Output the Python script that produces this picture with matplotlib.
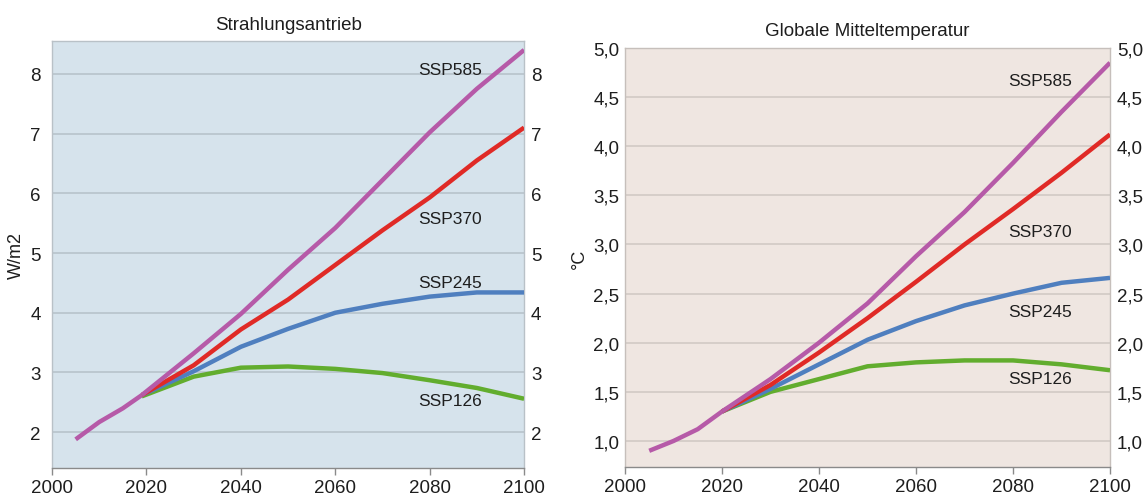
import matplotlib.pyplot as plt
from matplotlib.ticker import FuncFormatter

plt.rcParams['font.family'] = ['Liberation Sans', 'DejaVu Sans']

# Strahlungsantrieb (W/m2)
hist_years_f = [2005, 2010, 2015, 2019]
hist_forcing = [1.88, 2.17, 2.40, 2.62]
years_f = [2019, 2030, 2040, 2050, 2060, 2070, 2080, 2090, 2100]
ssp585_f = [2.62, 3.32, 3.98, 4.72, 5.42, 6.22, 7.02, 7.75, 8.40]
ssp370_f = [2.62, 3.12, 3.72, 4.22, 4.80, 5.38, 5.93, 6.55, 7.10]
ssp245_f = [2.62, 3.02, 3.43, 3.73, 4.00, 4.15, 4.27, 4.34, 4.34]
ssp126_f = [2.60, 2.93, 3.08, 3.10, 3.06, 2.99, 2.87, 2.74, 2.56]

# Globale Mitteltemperatur (°C)
hist_years_t = [2005, 2010, 2015, 2020]
hist_temp = [0.90, 1.00, 1.12, 1.30]
years_t = [2020, 2030, 2040, 2050, 2060, 2070, 2080, 2090, 2100]
ssp585_t = [1.30, 1.63, 2.00, 2.40, 2.88, 3.33, 3.83, 4.35, 4.85]
ssp370_t = [1.30, 1.57, 1.90, 2.25, 2.62, 3.00, 3.36, 3.73, 4.12]
ssp245_t = [1.30, 1.53, 1.78, 2.03, 2.22, 2.38, 2.50, 2.61, 2.66]
ssp126_t = [1.30, 1.50, 1.63, 1.76, 1.80, 1.82, 1.82, 1.78, 1.72]

scenarios = ['SSP585', 'SSP370', 'SSP245', 'SSP126']
colors = ['#b65aa8', '#e02a26', '#4f7fbf', '#62ad2e']

# Beschriftungen (Jahr, Wert)
label_pos_f = [(2077.5, 8.08), (2077.5, 5.57), (2077.5, 4.50), (2077.5, 2.53)]
label_pos_t = [(2079, 4.67), (2079, 3.13), (2079, 2.32), (2079, 1.64)]

x_ticks = [2000, 2020, 2040, 2060, 2080, 2100]
f_ticks = [2, 3, 4, 5, 6, 7, 8]
t_ticks = [1.0, 1.5, 2.0, 2.5, 3.0, 3.5, 4.0, 4.5, 5.0]

fig = plt.figure(figsize=(11.44, 5.02), dpi=100)
ax1 = fig.add_axes([0.0455, 0.0657, 0.4126, 0.8506])
ax2 = fig.add_axes([0.5463, 0.0677, 0.4240, 0.8347])


def style(ax, face, grid, edge, ylim, yticks, fmt, title, ylabel, ypad):
    ax.set_facecolor(face)
    ax.set_xlim(2000, 2100)
    ax.set_ylim(*ylim)
    ax.set_xticks(x_ticks)
    ax.set_yticks(yticks)
    ax.yaxis.set_major_formatter(fmt)
    ax.grid(axis='y', color=grid, linewidth=1.1)
    ax.set_axisbelow(True)
    for s in ax.spines.values():
        s.set_color(edge)
        s.set_linewidth(1.0)
    ax.spines['bottom'].set_color('#8a8a8a')
    ax.tick_params(axis='x', length=5, width=1, color='#8a8a8a',
                   labelsize=13.5, pad=3, labelcolor='#1e1e1e')
    ax.tick_params(axis='y', length=0, labelsize=13.5, pad=ypad,
                   labelcolor='#1e1e1e')
    ax.set_title(title, fontsize=13.5, pad=9, color='#1e1e1e')
    ax.set_ylabel(ylabel, fontsize=13, color='#1e1e1e', labelpad=4)
    twin = ax.twinx()
    twin.set_ylim(*ylim)
    twin.set_yticks(yticks)
    twin.yaxis.set_major_formatter(fmt)
    twin.tick_params(axis='y', length=0, labelsize=13.5, pad=5,
                     labelcolor='#1e1e1e')
    for s in twin.spines.values():
        s.set_visible(False)


fmt_f = FuncFormatter(lambda v, p: f'{v:.0f}')
fmt_t = FuncFormatter(lambda v, p: f'{v:.1f}'.replace('.', ','))

style(ax1, '#d6e3ec', '#b5c0c8', '#b9c1c7', (1.4, 8.55), f_ticks, fmt_f,
      'Strahlungsantrieb', 'W/m2', 8)
style(ax2, '#efe6e1', '#cfc7c2', '#c6bfbb', (0.735, 5.0), t_ticks, fmt_t,
      'Globale Mitteltemperatur', '°C', 4)

series_f = [ssp585_f, ssp370_f, ssp245_f, ssp126_f]
series_t = [ssp585_t, ssp370_t, ssp245_t, ssp126_t]

# Szenarien von unten nach oben zeichnen, SSP585 liegt oben
for i in [3, 2, 1, 0]:
    ax1.plot(years_f, series_f[i], color=colors[i], lw=3.2,
             solid_capstyle='butt', zorder=3)
    ax2.plot(years_t, series_t[i], color=colors[i], lw=3.2,
             solid_capstyle='butt', zorder=3)
ax1.plot(hist_years_f, hist_forcing, color=colors[0], lw=3.2,
         solid_capstyle='butt', zorder=3)
ax2.plot(hist_years_t, hist_temp, color=colors[0], lw=3.2,
         solid_capstyle='butt', zorder=3)

for name, (x, y) in zip(scenarios, label_pos_f):
    ax1.text(x, y, name, fontsize=12.5, va='center', ha='left',
             color='#1e1e1e', zorder=4)
for name, (x, y) in zip(scenarios, label_pos_t):
    ax2.text(x, y, name, fontsize=12.5, va='center', ha='left',
             color='#1e1e1e', zorder=4)

fig.savefig('out.png', dpi=100)
